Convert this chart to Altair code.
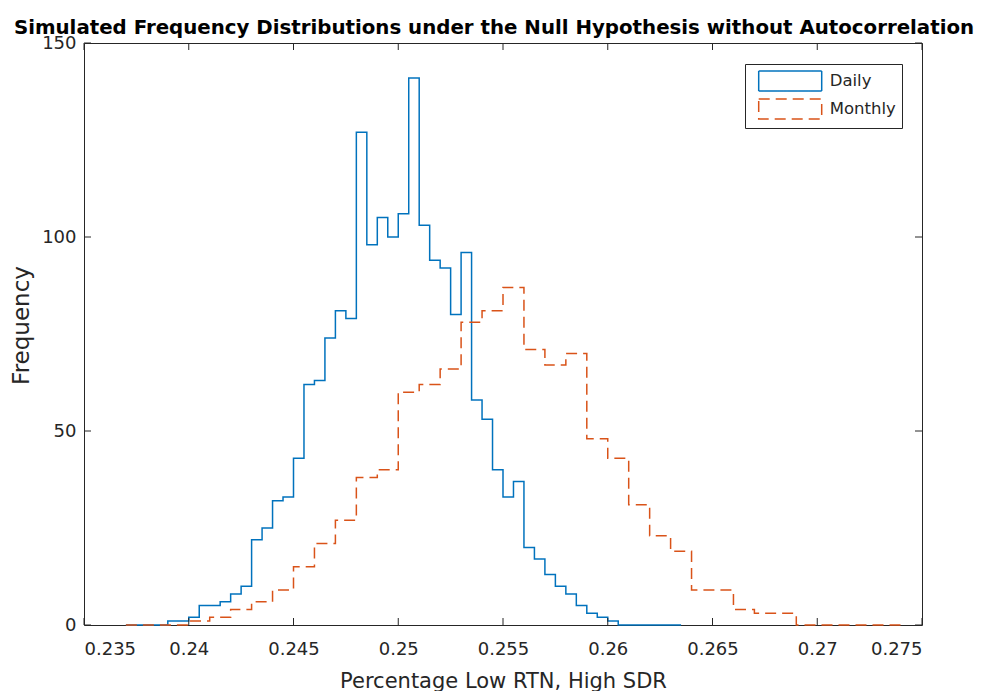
import altair as alt
import pandas as pd

# ---- data ----
series_names = ["Daily", "Monthly"]
series_colors = ["#0072BD", "#D95319"]

daily_start = 0.237
daily_width = 0.0005
daily_counts = [0, 0, 0, 0, 1, 1, 2, 5, 5, 6, 8, 10, 22, 25, 32, 33, 43, 62, 63, 74,
                81, 79, 127, 98, 105, 100, 106, 141, 103, 94, 92, 80, 96, 58, 53, 40,
                33, 37, 20, 17, 13, 10, 8, 5, 3, 2, 1, 0, 0, 0, 0, 0, 0]

monthly_start = 0.237
monthly_width = 0.001
monthly_counts = [0, 0, 0, 1, 2, 4, 6, 9, 15, 21, 27, 38, 40, 60, 62, 66, 78, 81, 87,
                  71, 67, 70, 48, 43, 31, 23, 19, 9, 9, 4, 3, 3, 0, 0, 0, 0, 0]

x_ticks = [0.235, 0.24, 0.245, 0.25, 0.255, 0.26, 0.265, 0.27, 0.275]
y_ticks = [0, 50, 100, 150]

title_text = "Simulated Frequency Distributions under the Null Hypothesis without Autocorrelation"
x_title = "Percentage Low RTN, High SDR"
y_title = "Frequency"


def stair_rows(name, start, width, counts):
    rows = []
    for i, c in enumerate(counts):
        rows.append({"series": name, "edge": round(start + i * width, 6), "count": c})
    rows.append({"series": name, "edge": round(start + len(counts) * width, 6), "count": counts[-1]})
    return rows


df = pd.DataFrame(stair_rows("Daily", daily_start, daily_width, daily_counts)
                  + stair_rows("Monthly", monthly_start, monthly_width, monthly_counts))

W, H = 838, 582
TICK = 7

xscale = alt.Scale(domain=[0.235, 0.275], nice=False, zero=False)
yscale = alt.Scale(domain=[0, 150], nice=False)

sym_path = "M-0.33,-1L5.97,-1L5.97,1L-0.33,1Z"
leg = alt.Legend(title=None, symbolType=sym_path, symbolSize=400, symbolStrokeWidth=1.5,
                 orient="none", legendX=661, legendY=21)

lines = alt.Chart(df).mark_line(interpolate="step-after", strokeWidth=1.5).encode(
    x=alt.X("edge:Q", scale=xscale,
            axis=alt.Axis(values=x_ticks, format="~g", title=x_title)),
    y=alt.Y("count:Q", scale=yscale,
            axis=alt.Axis(values=y_ticks, format="d", title=y_title, titleY=282)),
    color=alt.Color("series:N", scale=alt.Scale(domain=series_names, range=series_colors), legend=leg),
    strokeDash=alt.StrokeDash("series:N", scale=alt.Scale(domain=series_names, range=[[1, 0], [11, 6]]), legend=leg),
)

xt = pd.DataFrame({"t": x_ticks})
yt = pd.DataFrame({"v": y_ticks})

xb = alt.Chart(xt).mark_rule(color="#262626", strokeWidth=1).encode(
    x=alt.X("t:Q", scale=xscale, title=x_title), y=alt.value(H), y2=alt.value(H - TICK))
xtop = alt.Chart(xt).mark_rule(color="#262626", strokeWidth=1).encode(
    x=alt.X("t:Q", scale=xscale, title=x_title), y=alt.value(0), y2=alt.value(TICK))
yl = alt.Chart(yt).mark_rule(color="#262626", strokeWidth=1).encode(
    y=alt.Y("v:Q", scale=yscale, title=y_title), x=alt.value(0), x2=alt.value(TICK))
yr = alt.Chart(yt).mark_rule(color="#262626", strokeWidth=1).encode(
    y=alt.Y("v:Q", scale=yscale, title=y_title), x=alt.value(W), x2=alt.value(W - TICK))

chart = alt.layer(lines, xb, xtop, yl, yr).properties(
    width=W, height=H,
    title=alt.TitleParams(title_text, dx=-9),
    padding={"left": 76, "top": 35, "right": 66, "bottom": 66},
    autosize=alt.AutoSizeParams(type="none"),
).configure_view(
    stroke="#262626", strokeWidth=1
).configure_axis(
    domain=False, grid=False, ticks=False, tickSize=0,
    labelFont="DejaVu Sans", labelFontSize=18, labelColor="#262626",
    titleFont="DejaVu Sans", titleFontWeight="normal", titleColor="#262626",
).configure_axisX(
    labelPadding=15, titleFontSize=21, titlePadding=12
).configure_axisY(
    labelPadding=8, titleFontSize=23, titlePadding=8
).configure_legend(
    strokeColor="#262626", fillColor="white", padding=6,
    labelFont="DejaVu Sans", labelFontSize=16.5, labelColor="#262626",
    labelOffset=56.7, rowPadding=2,
).configure_title(
    font="DejaVu Sans", fontSize=19.8, fontWeight="bold", color="black",
    anchor="middle", offset=-4,
)

chart.save("out.html", embed_options={"renderer": "svg", "actions": False})
